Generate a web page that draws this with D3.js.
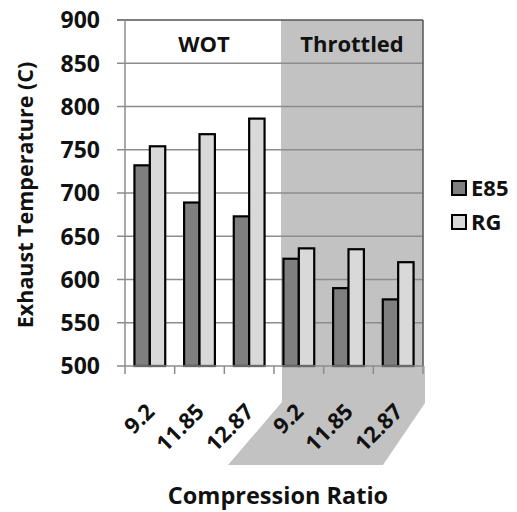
<!DOCTYPE html>
<html>
<head>
<meta charset="utf-8">
<script src="https://cdn.jsdelivr.net/npm/d3@7"></script>
<style>
  html, body { margin: 0; padding: 0; background: #fff; }
  svg text { font-family: "Open Sans", "DejaVu Sans", sans-serif; font-weight: 700; fill: #111; }
</style>
</head>
<body>
<svg id="chart" width="517" height="512"></svg>
<script>
// ---- data ----
const categories = ["9.2", "11.85", "12.87", "9.2", "11.85", "12.87"];
const groups = ["WOT", "WOT", "WOT", "Throttled", "Throttled", "Throttled"];
const seriesNames = ["E85", "RG"];
const e85Values = [732, 689, 673, 624, 590, 577];
const rgValues = [754, 768, 786, 636, 635, 620];
const yTicks = [500, 550, 600, 650, 700, 750, 800, 850, 900];
const yTitle = "Exhaust Temperature (C)";
const xTitle = "Compression Ratio";

// ---- layout ----
const svg = d3.select("#chart");
const L = 125, R = 423, T = 20, B = 366;
const y = d3.scaleLinear().domain([500, 900]).range([B, T]);
const x0 = d3.scaleBand().domain(d3.range(categories.length)).range([L, R])
  .paddingInner(0.38).paddingOuter(0.19);
const x1 = d3.scaleBand().domain(seriesNames).range([0, x0.bandwidth()]);
const step = x0.step();
const bandStart = i => L + i * step;
const colors = { E85: "#7f7f7f", RG: "#d9d9d9" };
const gridColor = "#8c8c8c";

// throttled shaded region (plot + below axis)
const firstThrottled = groups.indexOf("Throttled");
const shadeX = bandStart(firstThrottled) + 7;
svg.append("rect").attr("x", shadeX).attr("y", T).attr("width", R - shadeX).attr("height", B - T)
  .attr("fill", "#c2c2c2");
svg.append("path")
  .attr("d", d3.line()([[shadeX + 1, B], [shadeX + 1, B + 36], [shadeX - 53, 465], [R - 40, 465], [R + 2, B + 37], [R + 2, B]]) + "Z")
  .attr("fill", "#c2c2c2");

// gridlines + y ticks
svg.append("g").selectAll("line").data(yTicks.filter(v => v > 500)).join("line")
  .attr("x1", L - 8).attr("x2", R).attr("y1", d => y(d)).attr("y2", d => y(d))
  .attr("stroke", d => d === 900 ? "#555" : gridColor).attr("stroke-width", 1.5);
svg.append("line").attr("x1", L - 8).attr("x2", L).attr("y1", B).attr("y2", B)
  .attr("stroke", gridColor).attr("stroke-width", 1.5);

// right border
svg.append("line").attr("x1", R).attr("x2", R).attr("y1", T).attr("y2", B)
  .attr("stroke", "#555").attr("stroke-width", 1.5);

// bars
const data = categories.map((c, i) => ({ i, c, E85: e85Values[i], RG: rgValues[i] }));
const gBars = svg.append("g");
data.forEach(d => {
  seriesNames.forEach(s => {
    gBars.append("rect")
      .attr("x", x0(d.i) + x1(s))
      .attr("y", y(d[s]))
      .attr("width", x1.bandwidth())
      .attr("height", y(500) - y(d[s]))
      .attr("fill", colors[s])
      .attr("stroke", "#000")
      .attr("stroke-width", 2.2);
  });
});

// axes lines
svg.append("line").attr("x1", L).attr("x2", L).attr("y1", T).attr("y2", B)
  .attr("stroke", gridColor).attr("stroke-width", 1.5);
svg.append("line").attr("x1", L).attr("x2", R).attr("y1", B).attr("y2", B)
  .attr("stroke", gridColor).attr("stroke-width", 1.5);
svg.append("g").selectAll("line").data(d3.range(categories.length + 1)).join("line")
  .attr("x1", d => bandStart(d)).attr("x2", d => bandStart(d))
  .attr("y1", B).attr("y2", B + 8)
  .attr("stroke", gridColor).attr("stroke-width", 1.5);

// y tick labels
svg.append("g").selectAll("text").data(yTicks).join("text")
  .attr("x", 100).attr("y", d => y(d)).attr("dy", "0.36em")
  .attr("text-anchor", "end").attr("font-size", 23).text(d => d);

// x tick labels
svg.append("g").selectAll("text").data(data).join("text")
  .attr("transform", d => `translate(${x0(d.i) + x0.bandwidth() / 2 + 6},${413}) rotate(-45)`)
  .attr("text-anchor", "end").attr("font-size", 22).text(d => d.c);

// group labels
const groupNames = ["WOT", "Throttled"];
const groupCenters = [(L + shadeX) / 2 + 1, (shadeX + R) / 2];
svg.append("g").selectAll("text").data(groupNames).join("text")
  .attr("x", (d, i) => groupCenters[i]).attr("y", 52)
  .attr("text-anchor", "middle").attr("font-size", 22).text(d => d);

// axis titles
svg.append("text").attr("transform", `translate(33,${(T + B) / 2 + 2}) rotate(-90)`)
  .attr("text-anchor", "middle").attr("font-size", 21.5).text(yTitle);
svg.append("text").attr("x", (L + R) / 2 + 4).attr("y", 504)
  .attr("text-anchor", "middle").attr("font-size", 23.5).text(xTitle);

// legend
const lg = svg.append("g");
seriesNames.forEach((s, i) => {
  lg.append("rect").attr("x", 452).attr("y", 181 + i * 34).attr("width", 14).attr("height", 14)
    .attr("fill", colors[s]).attr("stroke", "#000").attr("stroke-width", 2);
  lg.append("text").attr("x", 471).attr("y", 196 + i * 34).attr("font-size", 22).text(s);
});
</script>
</body>
</html>
